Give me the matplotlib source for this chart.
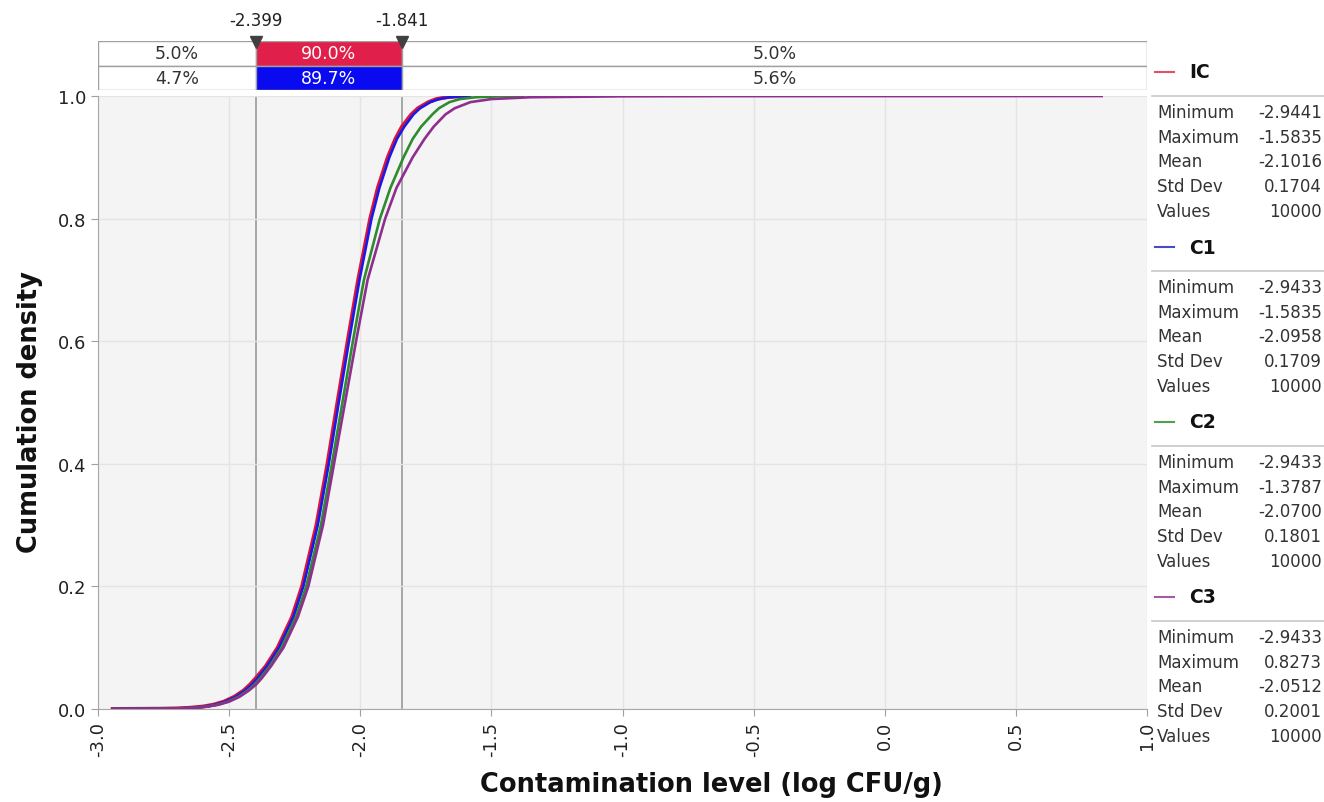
import matplotlib
matplotlib.use("Agg")
import matplotlib.pyplot as plt
from matplotlib.lines import Line2D

# cumulative probability levels
F_lv = [0.0, 0.0005, 0.001, 0.002, 0.004, 0.007, 0.012, 0.02, 0.03, 0.04, 0.05,
        0.07, 0.1, 0.15, 0.2, 0.3, 0.4, 0.5, 0.6, 0.7, 0.8, 0.85, 0.9, 0.93,
        0.95, 0.97, 0.98, 0.99, 0.995, 0.998, 0.9995, 1.0]
x_ic = [-2.9441, -2.76, -2.70, -2.65, -2.60, -2.56, -2.52, -2.48, -2.445, -2.42, -2.399,
        -2.36, -2.315, -2.26, -2.222, -2.167, -2.125, -2.087, -2.048, -2.008, -1.962,
        -1.933, -1.895, -1.866, -1.841, -1.805, -1.78, -1.74, -1.71, -1.67, -1.62, -1.5835]
x_c1 = [-2.9433, -2.75, -2.695, -2.645, -2.595, -2.555, -2.515, -2.475, -2.44, -2.413, -2.392,
        -2.355, -2.31, -2.255, -2.217, -2.162, -2.12, -2.082, -2.043, -2.003, -1.957,
        -1.927, -1.889, -1.86, -1.832, -1.797, -1.772, -1.733, -1.70, -1.66, -1.62, -1.5835]
x_c2 = [-2.9433, -2.74, -2.685, -2.635, -2.585, -2.545, -2.505, -2.465, -2.43, -2.403, -2.382,
        -2.345, -2.30, -2.245, -2.206, -2.15, -2.108, -2.068, -2.028, -1.986, -1.925,
        -1.885, -1.835, -1.80, -1.768, -1.725, -1.70, -1.66, -1.62, -1.56, -1.47, -1.3787]
F_c3 = [0.0, 0.0005, 0.001, 0.002, 0.004, 0.007, 0.012, 0.02, 0.03, 0.04, 0.05,
        0.07, 0.1, 0.15, 0.2, 0.3, 0.4, 0.5, 0.6, 0.7, 0.8, 0.85, 0.9, 0.93,
        0.95, 0.97, 0.98, 0.99, 0.995, 0.998, 0.9995, 0.9998, 1.0]
x_c3 = [-2.9433, -2.735, -2.68, -2.63, -2.58, -2.54, -2.50, -2.46, -2.425, -2.397, -2.376,
        -2.34, -2.293, -2.238, -2.198, -2.142, -2.10, -2.058, -2.016, -1.972, -1.905,
        -1.862, -1.80, -1.755, -1.72, -1.675, -1.64, -1.58, -1.50, -1.35, -1.0, -0.65, 0.8273]

series = ["IC", "C1", "C2", "C3"]
line_colors = ["#dc143c", "#1a1ae6", "#2e8b2e", "#8e2e8e"]
legend_colors = ["#e0506a", "#4a4ac8", "#4fa04f", "#a55aa5"]

cuts = [-2.399, -1.841]
row1_pct = ["5.0%", "90.0%", "5.0%"]
row2_pct = ["4.7%", "89.7%", "5.6%"]

stat_names = ["Minimum", "Maximum", "Mean", "Std Dev", "Values"]
stats_ic = ["-2.9441", "-1.5835", "-2.1016", "0.1704", "10000"]
stats_c1 = ["-2.9433", "-1.5835", "-2.0958", "0.1709", "10000"]
stats_c2 = ["-2.9433", "-1.3787", "-2.0700", "0.1801", "10000"]
stats_c3 = ["-2.9433", "0.8273", "-2.0512", "0.2001", "10000"]

xticks = [-3.0, -2.5, -2.0, -1.5, -1.0, -0.5, 0.0, 0.5, 1.0]
yticks = [0.0, 0.2, 0.4, 0.6, 0.8, 1.0]

W, H = 1324, 803
fig = plt.figure(figsize=(W / 100, H / 100), dpi=100)
plt.rcParams['font.family'] = ['DejaVu Sans']

def frac(x0, y0, x1, y1):
    return [x0 / W, 1 - y1 / H, (x1 - x0) / W, (y1 - y0) / H]

# main plot
ax = fig.add_axes(frac(98, 97, 1147, 710))
ax.set_facecolor("#f4f4f4")
ax.set_xlim(-3, 1)
ax.set_ylim(0, 1)
ax.set_xticks(xticks)
ax.set_yticks(yticks)
ax.set_xticklabels(["%.1f" % v for v in xticks], rotation=90, fontsize=13, color="#222222")
ax.set_yticklabels(["%.1f" % v for v in yticks], fontsize=13, color="#222222")
ax.tick_params(length=5, color="#a0a0a0")
ax.grid(True, color="#e4e4e4", lw=1)
for s in ["top", "right"]:
    ax.spines[s].set_visible(False)
for s in ["left", "bottom"]:
    ax.spines[s].set_color("#a8a8a8")
for c in cuts:
    ax.axvline(c, color="#a0a0a0", lw=1.3, zorder=1)

ax.plot(x_ic, F_lv, color=line_colors[0], lw=2.8, zorder=3)
ax.plot(x_c1, F_lv, color=line_colors[1], lw=1.9, zorder=4)
ax.plot(x_c2, F_lv, color=line_colors[2], lw=1.9, zorder=4)
ax.plot(x_c3, F_c3, color=line_colors[3], lw=1.9, zorder=4)

fig.text(30 / W, 1 - 412 / H, "Cumulation density", rotation=90, fontsize=18.5,
         fontweight="bold", ha="center", va="center", color="#111111")
fig.text(711 / W, 1 - 785 / H, "Contamination level (log CFU/g)", fontsize=18.5,
         fontweight="bold", ha="center", va="center", color="#111111")

# delimiter bar on top
bx = fig.add_axes(frac(98, 42, 1147, 91))
bx.set_xlim(-3, 1)
bx.set_ylim(2, 0)
bx.axis("off")
edges = [-3] + cuts + [1]
for row, pcts, mid in [(0, row1_pct, "#e0204a"), (1, row2_pct, "#0a0af0")]:
    for i in range(3):
        fc = mid if i == 1 else "white"
        tc = "white" if i == 1 else "#333333"
        bx.barh(row + 0.5, edges[i + 1] - edges[i], left=edges[i], height=1,
                color=fc, edgecolor="#a0a0a0", lw=1)
        bx.text((edges[i] + edges[i + 1]) / 2, row + 0.5, pcts[i], ha="center",
                va="center", fontsize=12.5, color=tc)
for c in cuts:
    bx.plot([c], [0.05], marker="v", ms=9, color="#404040", clip_on=False, zorder=5)
    bx.text(c, -0.5, "%.3f" % c, ha="center", va="bottom", fontsize=12, color="#222222")

# legend / statistics panel
lx = fig.add_axes(frac(1148, 0, 1324, 803))
lx.set_xlim(1148, 1324)
lx.set_ylim(803, 0)
lx.axis("off")
all_stats = [stats_ic, stats_c1, stats_c2, stats_c3]
for k, name in enumerate(series):
    y0 = 73 + k * 175
    lx.add_line(Line2D([1155, 1174], [y0, y0], color=legend_colors[k], lw=1.5))
    lx.text(1189, y0, name, fontsize=13.5, fontweight="bold", va="center", color="#111111")
    lx.add_line(Line2D([1152, 1324], [y0 + 24, y0 + 24], color="#c8c8c8", lw=1.2))
    for j, lab in enumerate(stat_names):
        yy = y0 + 40 + j * 24.7
        lx.text(1157, yy, lab, fontsize=12, va="center", color="#333333")
        lx.text(1322, yy, all_stats[k][j], fontsize=12, va="center", ha="right",
                color="#333333")

fig.savefig("out.png", dpi=100)
